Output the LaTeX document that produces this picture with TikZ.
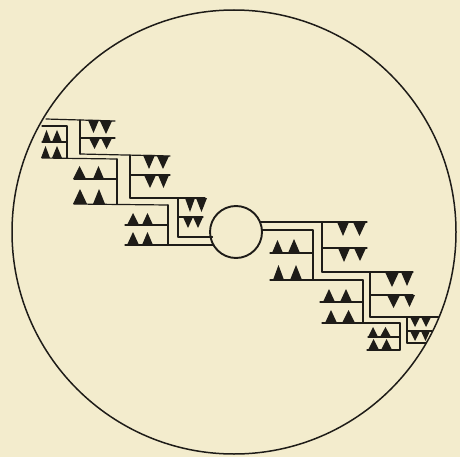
\documentclass[tikz,border=0pt]{standalone}
\definecolor{paper}{RGB}{243,236,205}
\definecolor{ink}{RGB}{30,28,24}
\tikzset{
  ln/.style={draw=ink, line width=1.2pt, line cap=round, line join=round},
  tooth/.style={fill=ink},
}
\newcommand{\tdn}[4]{\fill[tooth] (#1,#2) -- ({#1+#3},#2) -- ({#1+#3/2},{#2+#4}) -- cycle;}
\newcommand{\tup}[4]{\fill[tooth] (#1,#2) -- ({#1+#3},#2) -- ({#1+#3/2},{#2-#4}) -- cycle;}
\begin{document}
\begin{tikzpicture}[x=1pt,y=-1pt]
\useasboundingbox (0,0) rectangle (460,457);
\fill[paper] (0,0) rectangle (460,457);
% outer and inner circles
\draw[ink, line width=1.5pt] (234,232) circle (222);
\draw[ink, line width=1.9pt] (236,232) circle (26);

% ---------- right side ----------
% upper staircase with hanging teeth
\draw[ln] (260,222) -- (367,222);
\draw[ln] (322,222) -- (322,272);
\draw[ln] (322,248) -- (367,248);
\draw[ln] (322,272) -- (413,272);
\draw[ln] (370,272) -- (370,317);
\draw[ln] (370,295) -- (413,295);
\draw[ln] (370,317) -- (438.5,317);
\draw[ln] (407,317) -- (407,343);
\draw[ln] (407,331) -- (432,331);
\draw[ln] (407,343) -- (426,343);
% lower staircase with standing teeth
\draw[ln] (262,230) -- (313,230) -- (313,280);
\draw[ln] (270,253) -- (313,253);
\draw[ln] (270,280) -- (363,280);
\draw[ln] (363,280) -- (363,323);
\draw[ln] (320,302) -- (363,302);
\draw[ln] (322,323) -- (400,323);
\draw[ln] (400,323) -- (400,350);
\draw[ln] (368,337) -- (400,337);
\draw[ln] (367,350) -- (400,350);
% teeth right
\tdn{337}{222}{12}{14} \tdn{353}{222}{13}{14}
\tdn{338}{248}{12}{14} \tdn{354}{248}{12}{13}
\tup{272}{253}{11}{13} \tup{288}{253}{12}{14}
\tup{273}{280}{11}{15} \tup{290}{280}{12}{15}
\tdn{385}{272}{14}{15} \tdn{401}{272}{12}{14}
\tdn{387}{295}{13}{13} \tdn{404}{295}{11}{12}
\tup{323}{302}{12}{13} \tup{340}{302}{12}{13}
\tup{325}{323}{12}{13} \tup{342}{323}{13}{13}
\tdn{410}{317}{10}{10} \tdn{421}{317}{10}{10}
\tdn{410}{331}{10}{10} \tdn{421}{331}{9}{10}
\tup{368}{337}{10}{10} \tup{380}{337}{11}{10}
\tup{368}{350}{11}{11} \tup{381}{350}{11}{11}

% ---------- left side ----------
% upper staircase with hanging teeth
\draw[ln] (46,119) -- (115,121);
\draw[ln] (80,120) -- (80,154);
\draw[ln] (80,138) -- (115,138);
\draw[ln] (80,154) -- (170,156);
\draw[ln] (130,155) -- (130,198);
\draw[ln] (130,175) -- (170,175);
\draw[ln] (130,198) -- (205,198);
\draw[ln] (178,198) -- (178,237);
\draw[ln] (178,217) -- (203,217);
\draw[ln] (178,237) -- (212.5,237);
% lower staircase with standing teeth
\draw[ln] (42,126) -- (67,126) -- (67,158);
\draw[ln] (42,142) -- (67,142);
\draw[ln] (42,158) -- (117,159);
\draw[ln] (117,159) -- (117,204);
\draw[ln] (74,179) -- (117,179);
\draw[ln] (74,204) -- (168,205);
\draw[ln] (168,205) -- (168,245);
\draw[ln] (125,225) -- (168,225);
\draw[ln] (125,245) -- (213.5,245);
% teeth left
\tdn{88}{120}{11}{13} \tdn{100}{121}{12}{13}
\tdn{89}{138}{11}{11} \tdn{101}{138}{11}{11}
\tdn{143}{155}{12}{14} \tdn{157}{156}{12}{13}
\tdn{144}{175}{12}{13} \tdn{158}{175}{11}{13}
\tdn{185}{198}{10}{14} \tdn{196}{198}{11}{14}
\tdn{183}{217}{10}{11} \tdn{193}{217}{10}{11}
\tup{42}{142}{9}{12} \tup{52}{142}{10}{12}
\tup{41}{158}{9}{12} \tup{52}{158}{10}{12}
\tup{73}{179}{13}{13} \tup{93}{179}{11}{13}
\tup{73}{204}{14}{15} \tup{93}{204}{12}{15}
\tup{127}{225}{12}{12} \tup{142}{225}{11}{12}
\tup{127}{245}{12}{13} \tup{142}{245}{11}{13}
\end{tikzpicture}
\end{document}
